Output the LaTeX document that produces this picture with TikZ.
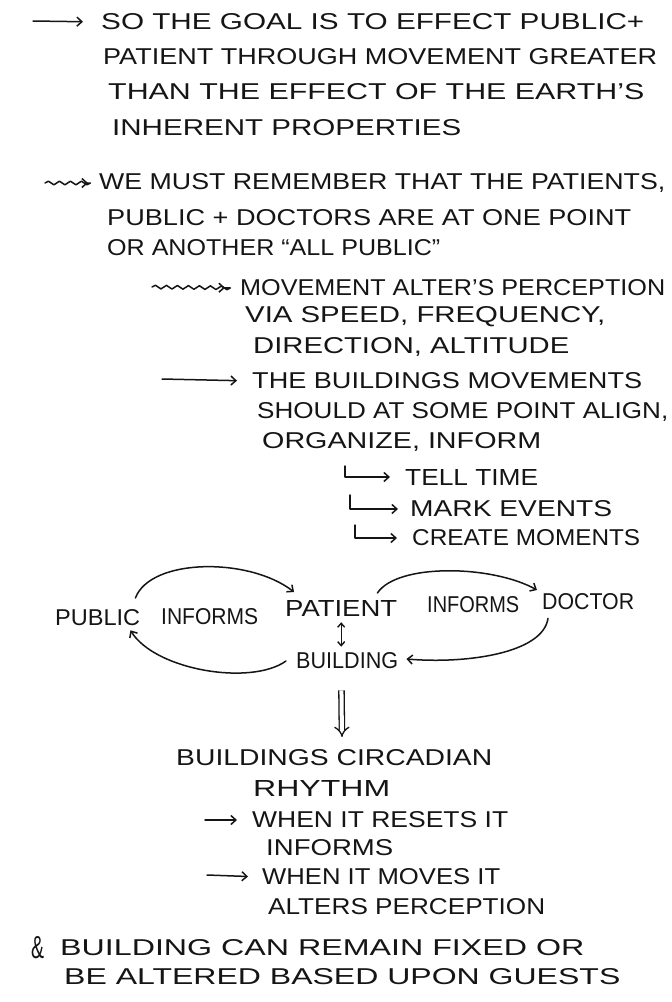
\documentclass[tikz,border=0pt]{standalone}
\usepackage{fontspec}
\setmainfont{Liberation Sans}
\usetikzlibrary{arrows.meta,decorations.pathmorphing,calc}
\newcommand{\hw}[2]{\resizebox{#1pt}{16pt}{#2}}
\definecolor{ink}{HTML}{151515}
\tikzset{
  txt/.style={anchor=west,inner sep=0pt,text=ink},
  arr/.style={draw=ink,-{Straight Barb[length=5pt,width=9pt]},line width=1.5pt,line cap=round,line join=round},
  wavy/.style={decorate,decoration={snake,amplitude=1.8pt,segment length=11pt,post length=8pt}},
}
\begin{document}
\begin{tikzpicture}[x=1pt,y=-1pt]
\fill[white] (0,0) rectangle (672,1002);
\useasboundingbox (0,0) rectangle (672,1002);
% block 1
\node[txt] (t1) at (101,22) {\hw{543}{SO THE GOAL IS TO EFFECT PUBLIC+}};
\node[txt] (t2) at (103,57) {\hw{554}{PATIENT THROUGH MOVEMENT GREATER}};
\node[txt] (t3) at (108,92) {\hw{536}{THAN THE EFFECT OF THE EARTH’S}};
\node[txt] (t4) at (112,128) {\hw{349}{INHERENT PROPERTIES}};
\coordinate (s1) at (33,21);
\draw[arr,shorten >=18pt] (s1) -- (t1.west);
% block 2
\node[txt] (t5) at (99,183) {\hw{566}{WE MUST REMEMBER THAT THE PATIENTS,}};
\node[txt] (t6) at (107,218) {\hw{524}{PUBLIC + DOCTORS ARE AT ONE POINT}};
\node[txt] (t7) at (107,248) {\hw{333}{OR ANOTHER “ALL PUBLIC”}};
\coordinate (s2) at (45,183);
\draw[arr,wavy,shorten >=11pt] (s2) -- (t5.west);
% block 3
\node[txt] (t8) at (240,288) {\hw{425}{MOVEMENT ALTER’S PERCEPTION}};
\node[txt] (t9) at (245,317) {\hw{360}{VIA SPEED, FREQUENCY,}};
\node[txt] (t10) at (253,347) {\hw{316}{DIRECTION, ALTITUDE}};
\coordinate (s3) at (152,287);
\draw[arr,wavy,shorten >=15pt] (s3) -- (t8.west);
\node[txt] (t11) at (252,381) {\hw{390}{THE BUILDINGS MOVEMENTS}};
\node[txt] (t12) at (257,412) {\hw{411}{SHOULD AT SOME POINT ALIGN,}};
\node[txt] (t13) at (262,442) {\hw{279}{ORGANIZE, INFORM}};
\coordinate (s4) at (162,379);
\draw[arr,shorten >=15pt] (s4) -- (t11.west);
% hooks
\node[txt] (t14) at (405,477) {\hw{133}{TELL TIME}};
\node[txt] (t15) at (410,509) {\hw{202}{MARK EVENTS}};
\node[txt] (t16) at (412,538) {\hw{228}{CREATE MOMENTS}};
\coordinate (h1) at (345,466);
\coordinate (h2) at (350,495);
\coordinate (h3) at (355,525);
\draw[arr,shorten >=15pt] (h1) |- (t14.west);
\draw[arr,shorten >=12pt] (h2) |- (t15.west);
\draw[arr,shorten >=15pt] (h3) |- (t16.west);
% diagram
\node[txt] (public) at (55,618) {\hw{85}{PUBLIC}};
\node[txt] (inf1) at (161,617) {\hw{97}{INFORMS}};
\node[txt] (patient) at (285,608) {\hw{112}{PATIENT}};
\node[txt] (inf2) at (427,605) {\hw{92}{INFORMS}};
\node[txt] (doctor) at (542,602) {\hw{92}{DOCTOR}};
\node[txt] (building) at (296,661) {\hw{102}{BUILDING}};
\draw[arr] ([shift={(-5,-20)}]public.east) .. controls +(15,-40) and +(-45,-35) .. ([shift={(9,-16)}]patient.west);
\draw[arr] ([shift={(-20,-15)}]patient.east) .. controls +(20,-30) and +(-45,-25) .. ([shift={(-5,-12)}]doctor.west);
\draw[arr] ([shift={(6,8)}]doctor.south west) .. controls +(-5,35) and +(60,5) .. ([shift={(8,-2)}]building.east);
\draw[arr] ([shift={(-10,0)}]building.west) .. controls +(-35,25) and +(25,40) .. ([shift={(-10,4)}]public.south east);
\draw[draw=ink,{Straight Barb[length=4pt,width=7pt]}-{Straight Barb[length=4pt,width=7pt]},line width=1.4pt,shorten <=6pt,shorten >=6pt] (patient.south) -- (patient.south |- building.north);
\coordinate (dd) at (342,737);
\draw[draw=ink,line width=1.3pt,double,double distance=4pt,-{Implies},shorten <=21pt] (building.south -| patient.south) -- (dd);
% block 4
\node[txt] (t18) at (176,758) {\hw{316}{BUILDINGS CIRCADIAN}};
\node[txt] (t19) at (253,788) {\hw{137}{RHYTHM}};
\node[txt] (t20) at (252,820) {\hw{256}{WHEN IT RESETS IT}};
\node[txt] (t21) at (266,848) {\hw{127}{INFORMS}};
\node[txt] (t22) at (262,877) {\hw{238}{WHEN IT MOVES IT}};
\node[txt] (t23) at (268,907) {\hw{277}{ALTERS PERCEPTION}};
\coordinate (s5) at (205,820);
\coordinate (s6) at (207,875);
\draw[arr,shorten >=15pt] (s5) -- (t20.west);
\draw[arr,shorten >=14pt] (s6) -- (t22.west);
\node[txt] (amp) at (31,948) {\resizebox{13pt}{22pt}{\&}};
\node[txt] (t24) at (60,948) {\hw{524}{BUILDING CAN REMAIN FIXED OR}};
\node[txt] (t25) at (64,977) {\hw{556}{BE ALTERED BASED UPON GUESTS}};
\end{tikzpicture}
\end{document}
